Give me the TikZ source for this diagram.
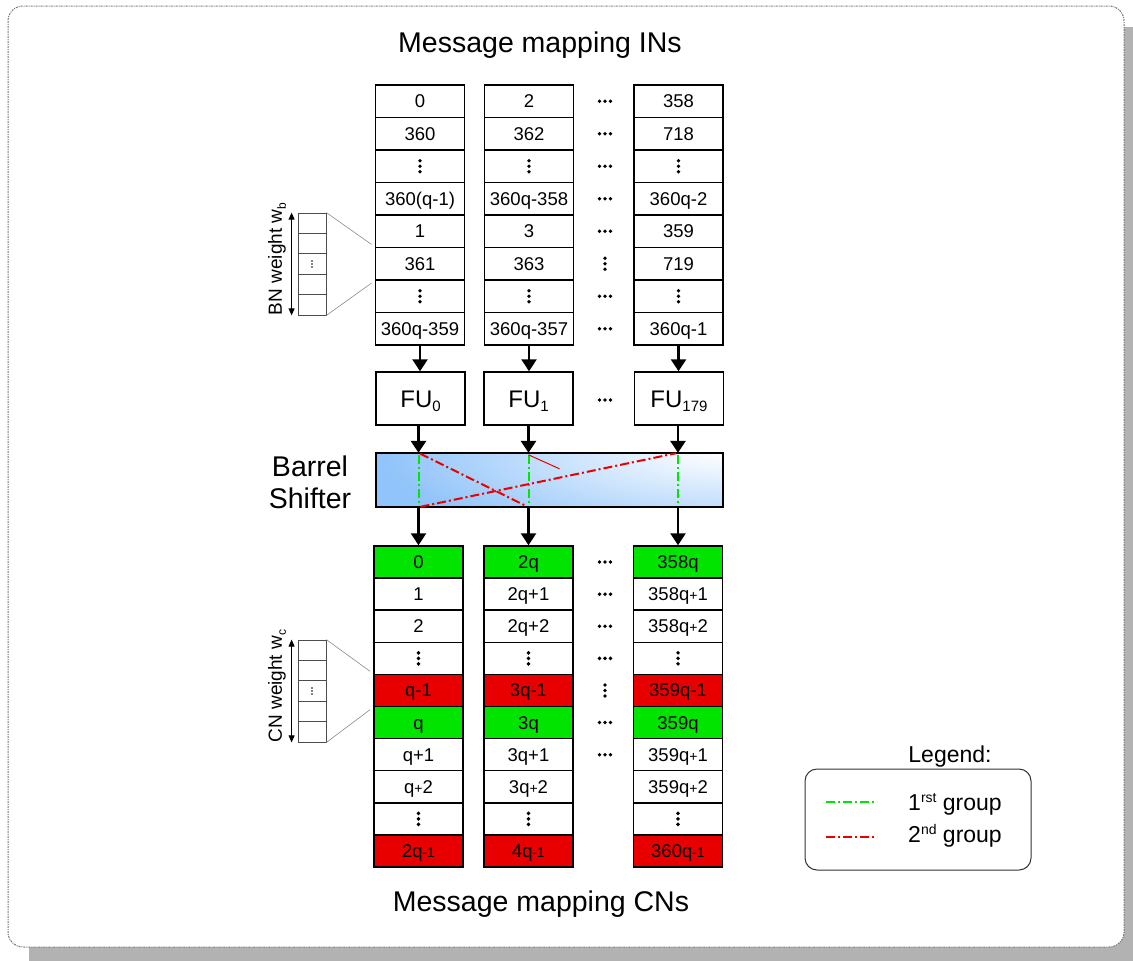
\documentclass[tikz,border=0pt]{standalone}
\usepackage{fontspec}
\setmainfont{Liberation Sans}
\usetikzlibrary{arrows.meta}
\definecolor{cellgreen}{RGB}{0,228,0}
\definecolor{cellred}{RGB}{232,0,0}
\definecolor{linegreen}{RGB}{0,230,0}
\definecolor{linered}{RGB}{235,0,0}
\definecolor{barblue}{RGB}{145,196,250}
\definecolor{shadowgray}{RGB}{178,178,178}
\definecolor{framegray}{RGB}{120,120,120}
\newcommand\fsz[1]{\fontsize{#1}{#1}\selectfont}
\newcommand\lsub[2]{\raisebox{-4pt}{\fsz{#1}#2}}
\newcommand\usup[2]{\raisebox{8pt}{\fsz{#1}#2}}
\newcommand\sm[1]{{\fsz{14}#1}}
\begin{document}
\begin{tikzpicture}[x=1pt,y=-1pt,
  cell/.style={draw, line width=1.5pt, minimum width=89pt, minimum height=32.5pt,
    inner sep=0pt, font={\fsz{18.5}}, text height=13pt, text depth=0pt},
  bcell/.style={cell, minimum height=32.1pt},
  fubox/.style={draw, line width=1.5pt, minimum width=89pt, minimum height=53pt,
    inner sep=0pt, font={\fsz{24}}, text height=17pt, text depth=0pt},
  arr/.style={line width=2.8pt, -{Triangle[width=15pt,length=12pt]}},
  warr/.style={line width=1pt, {Triangle[width=6pt,length=7pt]}-{Triangle[width=6pt,length=7pt]}},
  wbox/.style={draw=black!70, line width=0.8pt, minimum width=28pt, minimum height=102pt, inner sep=0pt},
  zoomline/.style={draw=black!45, line width=0.6pt, shorten >=4pt},
  grp1/.style={linegreen, line width=2pt, dash pattern=on 9pt off 3pt on 2pt off 3pt},
  grp2/.style={linered, line width=2pt, dash pattern=on 9pt off 3pt on 2pt off 3pt},
  title/.style={font={\fsz{28.5}}, inner sep=0pt},
  wlabel/.style={font={\fsz{19}}, inner sep=0pt, rotate=90},
  vdd/.pic={\fill (0,-5.5) circle (1.9pt) (0,0) circle (1.9pt) (0,5.5) circle (1.9pt);},
  hdd/.pic={\fill (-5.5,0) circle (1.9pt) (0,0) circle (1.9pt) (5.5,0) circle (1.9pt);},
  tinyv/.pic={\fill (0,-3) circle (0.9pt) (0,0) circle (0.9pt) (0,3) circle (0.9pt);}
]
\useasboundingbox (0,0) rectangle (1133,961);

% sheet with its shadow
\fill[shadowgray] (29,27) rectangle (1133,961);
\draw[framegray, fill=white, line width=1pt, rounded corners=15pt,
  dash pattern=on 2pt off 1pt on 1pt off 1pt] (8,6) rectangle (1124,947);

% titles
\node[title, anchor=base] (tin) at (540,52) {Message mapping INs};
\node[title, anchor=base] (tcn) at (541,911) {Message mapping CNs};

% input memories
\foreach \lab [count=\i from 0] in {0,360,,360(q-1),1,361,,360q-359}
  \node[cell] (t1r\i) at (420,{85+32.5*(\i+0.5)}) {\lab};
\foreach \lab [count=\i from 0] in {2,362,,360q-358,3,363,,360q-357}
  \node[cell] (t2r\i) at (529,{85+32.5*(\i+0.5)}) {\lab};
\foreach \lab [count=\i from 0] in {358,718,,360q-2,359,719,,360q-1}
  \node[cell] (t3r\i) at (678.5,{85+32.5*(\i+0.5)}) {\lab};
\foreach \c in {1,2,3} {
  \pic at (t\c r2) {vdd};
  \pic at (t\c r6) {vdd};
}
\foreach \i in {0,1,2,3,4,6,7}
  \pic at (605,{85+32.5*(\i+0.5)}) {hdd};
\pic at (605,{85+32.5*5.5}) {vdd};

% functional units
\node[fubox] (fu0) at (420.5,398.5) {FU\lsub{15}{0}};
\node[fubox] (fu1) at (528.5,398.5) {FU\lsub{15}{1}};
\node[fubox] (fu2) at (679,398.5) {FU\lsub{15}{179}};
\pic at (605,400) {hdd};

% output memories
\foreach \lab/\fc [count=\i from 0] in {0/cellgreen,1/white,2/white,/white,q-1/cellred,
    q/cellgreen,q+1/white,q\sm{+}2/white,/white,2q\sm{-1}/cellred}
  \node[bcell, fill=\fc] (b1r\i) at (418.5,{546+32.1*(\i+0.5)}) {\lab};
\foreach \lab/\fc [count=\i from 0] in {2q/cellgreen,2q+1/white,2q+2/white,/white,3q-1/cellred,
    3q/cellgreen,3q+1/white,3q\sm{+}2/white,/white,4q\sm{-1}/cellred}
  \node[bcell, fill=\fc] (b2r\i) at (528.5,{546+32.1*(\i+0.5)}) {\lab};
\foreach \lab/\fc [count=\i from 0] in {358q/cellgreen,358q\sm{+}1/white,358q\sm{+}2/white,/white,
    359q-1/cellred,359q/cellgreen,359q\sm{+}1/white,359q\sm{+}2/white,/white,360q\sm{-1}/cellred}
  \node[bcell, fill=\fc] (b3r\i) at (678,{546+32.1*(\i+0.5)}) {\lab};
\foreach \c in {1,2,3} {
  \pic at (b\c r3) {vdd};
  \pic at (b\c r8) {vdd};
}
\foreach \i in {0,1,2,3,5,6}
  \pic at (605,{546+32.1*(\i+0.5)}) {hdd};
\pic at (605,{546+32.1*4.5}) {vdd};

% barrel shifter: blue body that brightens towards its upper right corner
\node[minimum width=347pt, minimum height=54pt, inner sep=0pt] (bs) at (549.5,480) {};
\begin{scope}
  \clip (bs.south west) rectangle (bs.north east);
  \fill[barblue] (bs.south west) rectangle (bs.north east);
  \shade[inner color=white, outer color=barblue]
    ([shift={(-340,-95)}]bs.north east) rectangle ([shift={(340,95)}]bs.north east);
\end{scope}
\draw[line width=2.5pt] (bs.south west) rectangle (bs.north east);
\node[title, anchor=base] (bsa) at (310,476) {Barrel};
\node[title, anchor=base] (bsb) at (310,508) {Shifter};
\foreach \c in {1,2,3}
  \draw[grp1, shorten <=2pt, shorten >=2pt] (b\c r0.north |- bs.north) -- (b\c r0.north |- bs.south);
\draw[grp2, shorten <=2pt, shorten >=2pt] (b1r0.north |- bs.north) -- (b2r0.north |- bs.south);
\draw[grp2, shorten <=2pt, shorten >=2pt] (b1r0.north |- bs.south) -- (b3r0.north |- bs.north);
\draw[linered, line width=1pt] ([yshift=-2pt]b2r0.north |- bs.north) -- ++(31,14);

% data flow
\draw[arr] (t1r7.south) -- (t1r7.south |- fu0.north);
\draw[arr] (t2r7.south) -- (t2r7.south |- fu1.north);
\draw[arr] (t3r7.south) -- (t3r7.south |- fu2.north);
\draw[arr] (fu0.south -| b1r0.north) -- (b1r0.north |- bs.north);
\draw[arr] (fu1.south -| b2r0.north) -- (b2r0.north |- bs.north);
\draw[arr] (fu2.south -| b3r0.north) -- (b3r0.north |- bs.north);
\draw[arr] (b1r0.north |- bs.south) -- (b1r0.north);
\draw[arr] (b2r0.north |- bs.south) -- (b2r0.north);
\draw[arr] (b3r0.north |- bs.south) -- (b3r0.north);

% BN weight detail
\node[wbox] (bnbox) at (312,264) {};
\foreach \k in {1,2,3,4}
  \draw[black!70, line width=0.8pt] (298,{213+20.4*\k}) -- (326,{213+20.4*\k});
\pic at (bnbox) {tinyv};
\draw[warr] ([xshift=-6pt]bnbox.north west) -- ([xshift=-6pt]bnbox.south west);
\draw[zoomline] (bnbox.north east) -- (t1r5.north west);
\draw[zoomline] (bnbox.south east) -- (t1r5.south west);
\node[wlabel] (bnl) at (277,259) {BN weight w\lsub{12}{b}};

% CN weight detail
\node[wbox] (cnbox) at (312,691) {};
\foreach \k in {1,2,3,4}
  \draw[black!70, line width=0.8pt] (298,{640+20.4*\k}) -- (326,{640+20.4*\k});
\pic at (cnbox) {tinyv};
\draw[warr] ([xshift=-6pt]cnbox.north west) -- ([xshift=-6pt]cnbox.south west);
\draw[zoomline] (cnbox.north east) -- (b1r4.north west);
\draw[zoomline] (cnbox.south east) -- (b1r4.south west);
\node[wlabel] (cnl) at (277,686) {CN weight w\lsub{12}{c}};

% legend
\node[font={\fsz{23}}, inner sep=0pt, anchor=base] (lgt) at (950,762) {Legend:};
\draw[black!80, line width=1pt, rounded corners=12pt] (805,769) rectangle (1031,870);
\coordinate (g1a) at (826,802);
\coordinate (g1b) at (877,802);
\coordinate (g2a) at (826,837);
\coordinate (g2b) at (877,837);
\draw[grp1] (g1a) -- (g1b);
\draw[grp2] (g2a) -- (g2b);
\node[font={\fsz{23}}, inner sep=0pt, anchor=base west] (lg1) at (908,810) {1\usup{14}{rst} group};
\node[font={\fsz{23}}, inner sep=0pt, anchor=base west] (lg2) at (908,842) {2\usup{14}{nd} group};
\end{tikzpicture}
\end{document}
